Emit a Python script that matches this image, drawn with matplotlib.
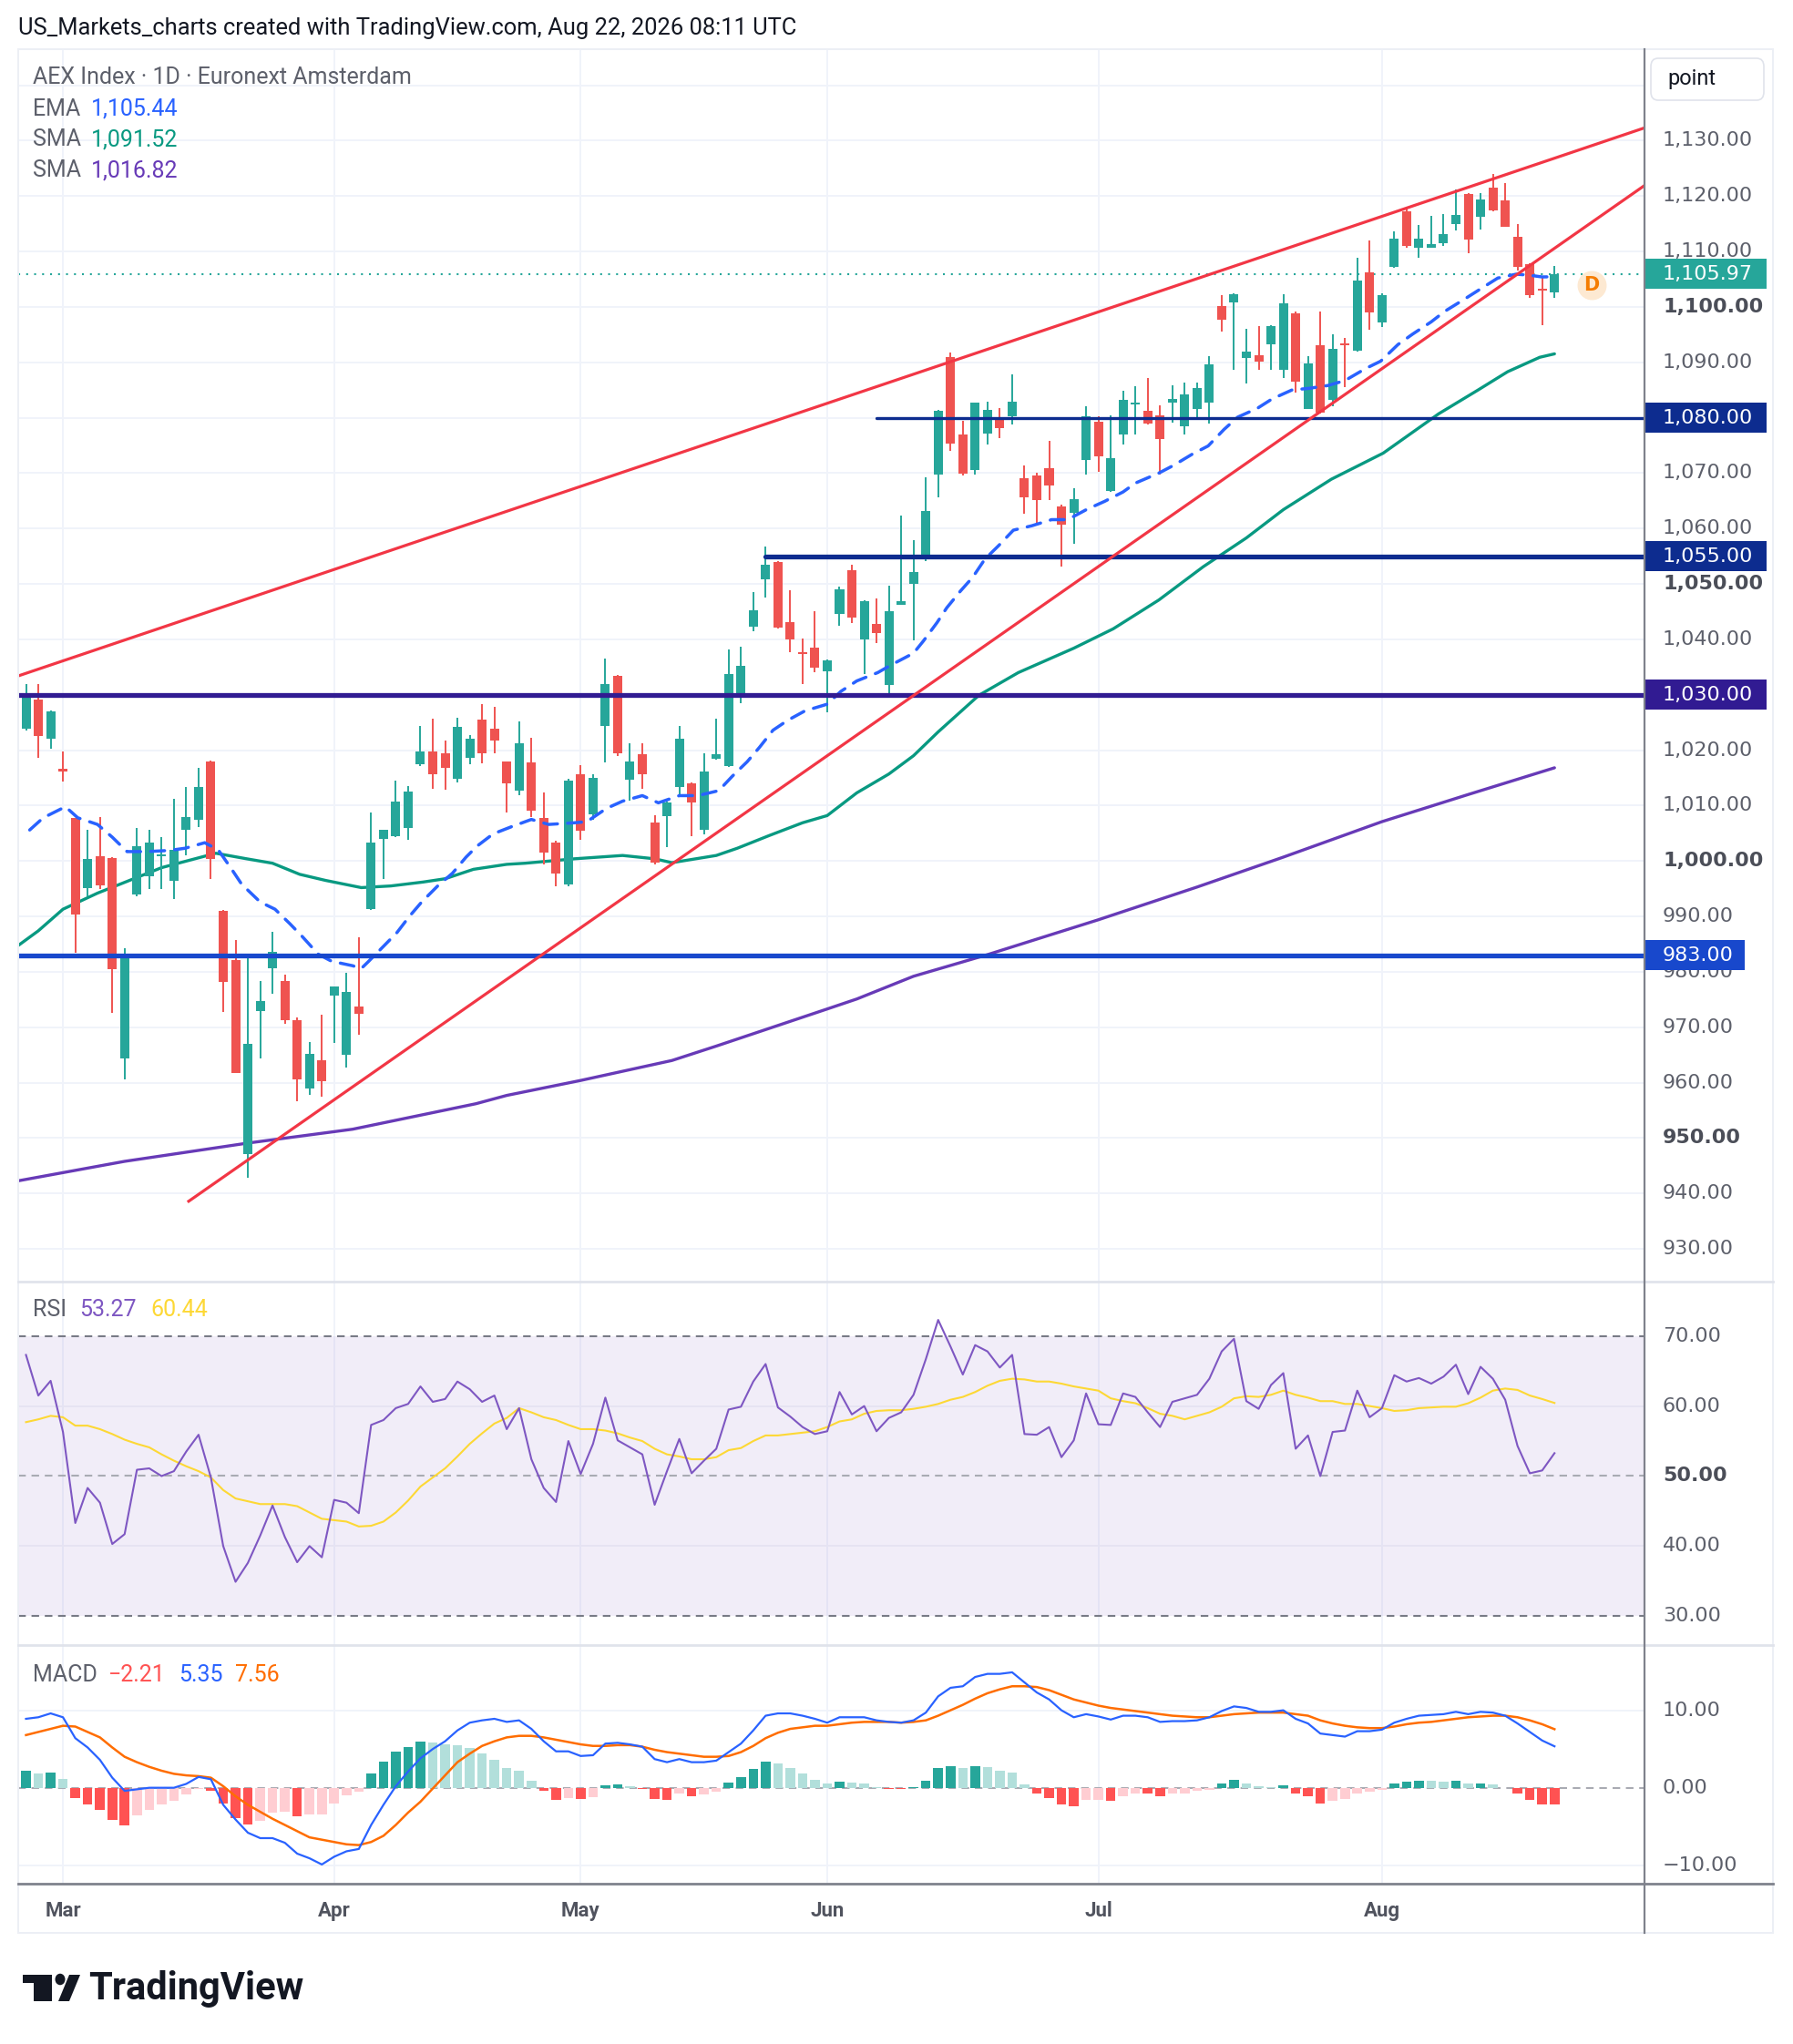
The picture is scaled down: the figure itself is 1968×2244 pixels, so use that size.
import numpy as np
import matplotlib
matplotlib.use('Agg')
import matplotlib.pyplot as plt
from matplotlib.patches import Rectangle, FancyBboxPatch, Circle, Polygon
from matplotlib.lines import Line2D

# ---------------- DATA ----------------
opens = [1023.8,1029.2,1022.1,1016.6,1007.7,995.1,1000.9,1000.6,964.4,993.9,
         997.3,1000.8,996.5,1005.6,1007.5,1017.9,991.0,982.2,947.1,972.9,
         980.6,978.4,971.2,959.0,964.0,975.7,965.0,973.8,991.3,1004.0,
         1004.4,1006.0,1017.4,1019.8,1019.5,1014.8,1018.6,1025.5,1023.9,1017.9,
         1012.7,1017.8,1007.7,1003.3,995.8,1015.6,1008.5,1024.3,1033.4,1014.7,
         1019.2,1006.9,1008.1,1013.4,1014.0,1005.6,1018.4,1017.1,1030.1,1042.3,
         1050.8,1054.0,1043.1,1037.5,1038.5,1034.3,1044.6,1052.4,1040.0,1042.7,
         1031.8,1046.3,1050.0,1054.5,1069.8,1090.9,1077.0,1070.5,1077.2,1079.6,
         1080.2,1069.1,1069.6,1070.9,1064.0,1062.8,1072.3,1079.2,1066.7,1077.0,
         1082.4,1081.3,1080.4,1082.8,1078.5,1081.5,1082.8,1100.2,1100.8,1090.8,
         1091.3,1093.2,1088.6,1098.9,1081.6,1093.0,1083.2,1093.3,1092.1,1106.2,
         1097.2,1107.2,1117.3,1110.6,1110.7,1111.5,1115.0,1120.4,1116.2,1121.5,
         1119.2,1112.6,1107.7,1103.0,1102.6]
highs = [1031.9,1031.9,1027.1,1019.7,1007.8,1005.6,1007.9,1000.7,984.2,1005.9,
         1005.6,1004.3,1011.2,1013.4,1016.8,1018.2,991.2,985.7,983.2,978.3,
         987.3,979.5,971.8,967.3,972.3,977.4,979.8,986.2,1008.7,1005.7,
         1014.5,1013.5,1024.4,1025.7,1021.8,1025.8,1022.8,1028.3,1027.9,1018.0,
         1025.2,1022.3,1012.4,1003.6,1014.9,1017.3,1015.6,1036.6,1033.5,1021.2,
         1021.3,1008.3,1010.7,1024.4,1014.1,1019.5,1025.7,1038.1,1038.7,1048.6,
         1056.8,1054.1,1048.9,1040.1,1045.0,1036.3,1049.6,1053.4,1047.0,1047.4,
         1049.7,1062.4,1057.9,1069.3,1081.4,1091.7,1079.5,1082.8,1082.9,1081.8,
         1087.9,1071.3,1070.1,1075.8,1064.3,1067.3,1082.1,1080.3,1080.4,1084.8,
         1085.7,1087.2,1082.3,1085.9,1086.4,1086.3,1091.1,1102.1,1102.4,1096.0,
         1096.6,1096.7,1102.3,1099.2,1091.1,1099.1,1095.0,1094.4,1108.9,1112.0,
         1102.4,1113.7,1117.8,1114.8,1116.4,1116.8,1121.2,1120.5,1120.5,1123.9,
         1122.3,1115.0,1107.9,1105.5,1107.3]
lows = [1023.5,1018.6,1020.3,1014.4,983.5,993.6,994.9,972.6,960.6,993.6,
        994.9,994.9,993.1,1001.0,1006.2,996.7,972.8,961.7,942.9,964.4,
        976.0,970.6,956.6,957.8,957.5,967.1,962.7,968.7,991.1,996.8,
        1004.3,1003.8,1017.2,1013.1,1012.8,1014.2,1017.4,1017.6,1019.5,1008.8,
        1011.8,1007.9,999.4,995.4,995.4,1003.8,1007.4,1017.8,1018.9,1010.9,
        1013.0,999.4,1002.5,1012.1,1004.4,1004.8,1018.3,1017.0,1028.4,1041.5,
        1047.5,1042.0,1037.7,1031.9,1034.0,1026.9,1042.5,1043.0,1033.8,1039.3,
        1030.0,1046.2,1039.9,1054.2,1065.7,1074.0,1069.5,1069.7,1075.2,1076.3,
        1078.7,1062.6,1061.0,1065.2,1053.1,1057.2,1069.7,1070.2,1066.6,1075.2,
        1076.9,1078.8,1069.8,1079.1,1077.0,1080.0,1079.0,1095.5,1088.6,1086.1,
        1088.7,1088.6,1087.1,1084.6,1081.5,1080.8,1082.0,1085.5,1092.0,1095.8,
        1096.3,1107.1,1110.7,1108.8,1110.6,1111.0,1113.8,1109.6,1113.9,1117.2,
        1114.4,1106.6,1101.6,1096.7,1101.7]
closes = [1030.3,1022.5,1027.0,1016.2,990.3,1000.3,995.6,980.5,983.2,1002.7,
          1003.3,1001.2,1002.0,1008.0,1013.4,1000.4,978.1,961.8,967.0,974.7,
          983.6,971.2,960.6,965.2,960.3,977.3,976.4,972.5,1003.3,1005.6,
          1010.8,1012.6,1019.8,1015.7,1016.8,1024.2,1022.0,1019.5,1021.7,1014.0,
          1021.2,1009.0,1001.5,997.7,1014.5,1005.4,1015.0,1031.9,1019.5,1017.9,
          1015.6,999.7,1010.6,1022.0,1010.5,1016.1,1019.2,1033.8,1035.3,1045.2,
          1053.4,1042.1,1040.0,1037.4,1034.9,1036.2,1049.1,1043.9,1046.9,1041.1,
          1045.0,1046.9,1052.1,1063.2,1081.3,1075.4,1069.9,1082.7,1081.4,1078.1,
          1082.9,1065.6,1065.2,1067.8,1060.7,1065.3,1080.2,1073.1,1072.7,1083.2,
          1082.6,1078.9,1076.1,1083.3,1084.2,1085.4,1089.7,1097.6,1102.3,1091.9,
          1090.2,1096.6,1100.7,1086.5,1089.8,1080.9,1092.4,1093.1,1104.7,1099.0,
          1102.1,1112.3,1111.0,1112.3,1111.3,1113.1,1116.6,1112.1,1119.3,1117.4,
          1114.5,1107.2,1102.2,1102.9,1105.97]

month_labels = ['Mar', 'Apr', 'May', 'Jun', 'Jul', 'Aug']
month_bars = [3, 25, 45, 65, 87, 110]

ema_x = [0.3,1.4,3.2,4.2,5.8,7,8.2,9.8,11.6,12.9,14.5,15.6,16.6,17.5,19,20.2,21.4,22.4,23.7,24.8,
         26.5,27.2,27.8,29,30.1,31.1,32.1,33.4,34.6,35.7,36.6,37.9,39.4,41,42.4,44.5,45.5,47.1,48.4,50,
         51.3,53,54.5,56.2,57.3,58.5,59.5,60.6,61.8,63.2,65,66.1,67.4,69.1,70.2,72,72.8,73.9,74.7,75.8,
         76.8,77.8,78.9,80.1,81.6,83.2,84.5,86.1,87.5,89,90,91.9,93.1,94.6,95.9,97.2,98.3,99.9,101.1,102.7,
         104.1,105.6,107,108.7,109.9,111.3,112.5,114,115.1,116.7,117.9,119.4,120.9,122,123,124]
ema_v = [1005.6,1007.8,1009.8,1007.8,1006.6,1004.3,1001.7,1001.7,1001.9,1002.3,1003.3,1002.0,998.8,995.8,992.6,991.3,988.7,986.4,983.2,981.9,
         981.1,980.6,981.9,984.6,987.1,990.0,992.6,995.5,997.8,1000.7,1002.7,1004.9,1006.2,1007.5,1006.6,1006.9,1007.1,1009.5,1010.8,1011.8,
         1010.5,1011.8,1011.8,1012.7,1015.3,1017.9,1020.5,1023.6,1025.4,1027.1,1028.3,1030.6,1032.5,1034.0,1035.4,1037.5,1039.7,1043.0,1045.7,1048.7,
         1051.2,1054.5,1056.9,1059.7,1060.5,1061.6,1061.6,1063.5,1064.9,1066.6,1068.2,1070.0,1071.4,1073.4,1074.9,1077.9,1080.1,1081.7,1083.4,1085.0,
         1085.3,1085.8,1086.7,1088.9,1090.2,1093.2,1095.1,1097.3,1099.2,1101.4,1103.1,1105.2,1105.9,1105.7,1105.4,1105.44]

sma50_x = [-0.6,1,3,5.8,8.4,11,13.2,15.4,17.9,20,22.2,24.3,27.2,29.6,32.2,34,36.3,39,40.5,44.5,
           48.4,51,52.4,56,57.7,60.3,63,65,67.4,70,72,74,77.3,80.5,85,88.2,91.9,95.5,99,102,
           105.9,110.1,114.6,117.8,120.2,122.8,124]
sma50_v = [984.8,987.4,991.3,994.2,996.5,998.8,1000.1,1001.4,1000.4,999.6,997.6,996.5,995.2,995.5,996.2,996.8,998.5,999.4,999.6,1000.4,
           1001.0,1000.4,999.7,1001.0,1002.3,1004.6,1006.9,1008.2,1012.3,1015.7,1019.0,1023.3,1029.9,1034.0,1038.4,1041.9,1047.1,1053.1,1058.3,1063.4,
           1068.9,1073.6,1080.7,1085.0,1088.3,1090.9,1091.52]

sma200_x = [-0.6,8,18,26.5,36.5,39,45,52.4,56,60.3,65,67.4,72,78,87,95,102,110,117,124]
sma200_v = [942.3,945.8,949.1,951.6,956.2,957.7,960.4,964.0,966.6,969.8,973.3,975.1,979.2,983.1,989.4,995.3,1000.7,1007.1,1012.0,1016.82]

# trend line anchors (bar index, price)
upper_tl_x = [-0.63, 131.3]
upper_tl_y = [1033.4, 1132.3]
lower_tl_x = [13.2, 131.3]
lower_tl_y = [938.6, 1121.9]

# horizontal levels
levels = [1080.0, 1055.0, 1030.0, 983.0]
level_start = [69.0, 60.0, -0.63, -0.63]
level_colors = ['#0d2c8f', '#0d2c8f', '#311b92', '#1848cc']
level_widths = [2.4, 3.8, 3.8, 3.8]
last_price = 1105.97

rsi = [67.3,61.5,63.6,56.3,43.3,48.3,46.2,40.3,41.7,50.9,51.1,50.0,50.7,53.5,55.9,49.8,40.0,34.9,37.6,41.5,
       45.8,41.3,37.7,40.0,38.4,46.6,46.2,44.7,57.3,58.0,59.7,60.3,62.8,60.6,61.0,63.5,62.4,60.6,61.5,56.7,
       59.7,52.4,48.3,46.3,55.0,50.3,54.6,61.2,55.1,54.1,53.1,45.9,50.7,55.3,50.4,52.2,53.9,59.5,59.9,63.5,
       66.0,59.8,58.5,57.0,56.0,56.4,62.0,58.8,60.0,56.4,58.3,59.1,61.6,66.7,72.3,68.5,64.5,68.7,67.8,65.5,
       67.3,56.0,55.9,57.0,52.7,55.1,61.8,57.4,57.3,61.8,61.3,59.1,57.0,60.6,61.1,61.6,63.9,67.8,69.6,60.7,
       59.6,63.0,64.7,53.9,55.8,50.0,56.3,56.5,62.2,58.4,59.7,64.4,63.5,64.0,63.2,64.2,65.9,61.7,65.6,63.9,
       60.9,54.3,50.4,50.8,53.27]
rsi_ma = [57.7,58.1,58.6,58.4,57.2,57.2,56.7,56.0,55.2,54.6,54.1,53.1,52.2,51.4,50.7,49.8,48.0,46.8,46.4,46.0,
          46.0,46.0,45.7,44.8,43.9,43.7,43.5,42.8,42.9,43.5,44.8,46.5,48.5,49.8,51.1,52.8,54.6,56.1,57.5,58.3,
          59.7,59.1,58.4,58.0,57.3,56.7,56.7,56.5,56.1,55.5,55.0,53.9,53.1,52.8,52.4,52.4,52.7,53.7,54.0,55.0,
          55.8,55.8,56.0,56.2,56.4,57.0,57.8,58.1,58.9,59.3,59.4,59.4,59.6,59.9,60.3,60.9,61.3,62.0,62.9,63.6,
          63.9,63.8,63.5,63.5,63.2,62.8,62.5,62.2,61.1,60.7,60.4,59.7,58.9,58.6,58.1,58.6,59.1,59.9,61.1,61.4,
          61.3,61.6,62.2,61.6,61.2,60.7,60.7,60.3,60.3,60.0,59.7,59.3,59.4,59.7,59.8,59.9,59.9,60.4,61.2,62.2,
          62.5,62.3,61.5,61.0,60.44]

macd = [8.9,9.1,9.6,9.1,6.4,5.2,3.6,1.3,-0.4,-0.2,0.0,0.0,0.0,0.5,1.4,1.1,-2.2,-4.1,-5.8,-6.5,
        -6.5,-7.1,-8.5,-9.1,-9.9,-8.9,-8.2,-7.9,-4.8,-2.2,0.2,2.1,3.8,5.0,6.0,7.4,8.4,8.7,8.9,8.5,
        8.7,7.6,6.0,4.7,4.7,4.1,4.2,5.7,5.8,5.6,5.3,3.7,3.3,3.7,3.3,3.3,3.5,4.6,5.7,7.4,
        9.3,9.6,9.6,9.3,8.9,8.4,9.1,9.1,9.1,8.7,8.5,8.4,8.7,9.7,11.8,12.9,13.1,14.3,14.7,14.7,
        14.9,13.6,12.3,11.4,10.0,9.1,9.5,9.2,8.8,9.3,9.3,9.1,8.5,8.6,8.6,8.7,9.1,9.9,10.5,10.3,
        9.8,9.8,10.0,8.9,8.3,7.0,6.8,6.6,7.3,7.3,7.5,8.4,8.9,9.3,9.4,9.5,9.8,9.5,9.8,9.7,
        9.3,8.3,7.2,6.1,5.35]
signal = [6.8,7.2,7.6,8.0,7.9,7.2,6.5,5.2,4.0,3.3,2.7,2.2,1.8,1.6,1.5,1.3,0.2,-1.1,-2.2,-3.1,
          -4.0,-4.8,-5.6,-6.4,-6.7,-7.0,-7.3,-7.4,-7.0,-6.2,-4.8,-3.2,-1.8,-0.1,1.6,3.3,4.4,5.4,6.0,6.5,
          6.7,6.7,6.5,6.2,5.9,5.6,5.4,5.4,5.5,5.5,5.3,4.9,4.6,4.4,4.2,4.0,4.0,4.1,4.6,5.4,
          6.4,7.1,7.6,7.8,8.0,8.0,8.2,8.4,8.5,8.5,8.5,8.4,8.5,8.7,9.3,10.0,10.7,11.5,12.2,12.7,
          13.1,13.1,13.0,12.6,12.0,11.4,11.0,10.6,10.3,10.1,9.9,9.7,9.5,9.3,9.2,9.1,9.1,9.3,9.5,9.6,
          9.7,9.7,9.7,9.5,9.3,8.7,8.3,8.0,7.8,7.7,7.7,7.9,8.2,8.4,8.5,8.7,8.9,9.1,9.2,9.3,
          9.3,9.1,8.7,8.2,7.56]
hist = [2.2,1.9,2.0,1.1,-1.3,-2.1,-2.9,-4.2,-4.8,-3.6,-2.8,-2.2,-1.7,-0.9,-0.1,-0.4,-2.0,-3.9,-4.7,-4.3,
        -3.2,-3.1,-3.7,-3.5,-3.4,-2.0,-1.0,-0.5,1.9,3.4,4.7,5.3,6.0,5.9,5.6,5.5,5.1,4.4,3.6,2.6,
        2.2,0.9,-0.4,-1.6,-1.3,-1.5,-1.2,0.35,0.4,0.2,-0.2,-1.5,-1.6,-0.7,-1.1,-0.9,-0.5,0.7,1.4,2.4,
        3.4,3.1,2.5,1.8,1.0,0.5,0.8,0.7,0.6,0.1,-0.1,-0.15,0.1,0.9,2.5,2.8,2.5,2.8,2.7,2.2,
        2.0,0.4,-0.7,-1.3,-2.2,-2.4,-1.6,-1.55,-1.7,-1.1,-0.7,-0.8,-1.1,-0.8,-0.7,-0.4,-0.3,0.5,1.0,0.6,
        0.15,0.1,0.3,-0.7,-1.1,-2.0,-1.7,-1.5,-0.7,-0.5,-0.3,0.6,0.8,0.9,0.85,0.8,0.9,0.5,0.6,0.4,
        -0.05,-0.8,-1.6,-2.15,-2.21]

price_ticks = [930,940,950,960,970,980,990,1000,1010,1020,1030,1040,1050,1060,1070,1080,1090,1100,1110,1120,1130]
bold_ticks = [950, 1000, 1050, 1100]

# ---------------- LAYOUT ----------------
W, H = 1968, 2244
fig = plt.figure(figsize=(W / 100, H / 100), dpi=100)
fig.patch.set_facecolor('white')

def fx(x):
    return x / W

def fy(y):
    return 1 - y / H

L, R = 20, 1805
T_MAIN, B_MAIN, B_RSI, B_MACD, B_TIME, R_OUT = 54, 1407, 1806, 2068, 2122, 1946
XMIN, XMAX = -0.63, 131.3

ax = fig.add_axes([fx(L), fy(B_MAIN), (R - L) / W, (B_MAIN - T_MAIN) / H])
ax_r = fig.add_axes([fx(L), fy(B_RSI), (R - L) / W, (B_RSI - B_MAIN) / H])
ax_m = fig.add_axes([fx(L), fy(B_MACD), (R - L) / W, (B_MACD - B_RSI) / H])

GRID = '#f0f3fa'
for a in (ax, ax_r, ax_m):
    a.set_xlim(XMIN, XMAX)
    for s in a.spines.values():
        s.set_visible(False)
    a.set_xticks([])
    a.set_yticks([])
    a.patch.set_alpha(0)
    for mb in month_bars:
        a.axvline(mb, color=GRID, lw=1.4, zorder=0)

ax.set_ylim(924.1, 1146.5)
ax_r.set_ylim(25.87, 77.77)
ax_m.set_ylim(-12.38, 18.42)

for p in price_ticks + [1140]:
    ax.axhline(p, color=GRID, lw=1.4, zorder=0)
for v in [40, 60]:
    ax_r.axhline(v, color='#e6e3f2', lw=1.4, zorder=1)
for v in [10, -10]:
    ax_m.axhline(v, color=GRID, lw=1.4, zorder=0)

# ---------------- MAIN PANEL ----------------
idx = np.arange(len(closes))
o = np.array(opens); c = np.array(closes); h = np.array(highs); lo = np.array(lows)
up = c >= o
GREEN, RED = '#26a69a', '#ef5350'
cols = np.where(up, GREEN, RED)
ax.vlines(idx, lo, h, colors=cols, lw=1.4, zorder=4)
body_bottom = np.minimum(o, c)
body_h = np.maximum(np.abs(c - o), 0.35)
ax.bar(idx, body_h, bottom=body_bottom, width=0.74, color=cols, zorder=5, linewidth=0)

ax.plot(sma200_x, sma200_v, color='#673ab7', lw=2.4, zorder=3, solid_capstyle='round')
ax.plot(sma50_x, sma50_v, color='#089981', lw=2.4, zorder=3, solid_capstyle='round')
ax.plot(ema_x, ema_v, color='#2962ff', lw=2.5, zorder=6, dashes=(4.4, 3.2), dash_capstyle='round')

ax.plot(upper_tl_x, upper_tl_y, color='#f23645', lw=2.3, zorder=7)
ax.plot(lower_tl_x, lower_tl_y, color='#f23645', lw=2.3, zorder=7)

for lv, st, colr, lw in zip(levels, level_start, level_colors, level_widths):
    ax.plot([st, XMAX], [lv, lv], color=colr, lw=lw, zorder=6, solid_capstyle='round')

ax.axhline(last_price, color='#26a69a', lw=1.5, ls=(0, (1, 3.2)), zorder=2)

# D marker
ax.plot([127.0], [1104.0], 'o', ms=22, color='#fde9d2', zorder=8)
ax.text(127.0, 1104.0, 'D', color='#f57c00', fontsize=15, fontweight='bold',
        ha='center', va='center', zorder=9, family=['DejaVu Sans'])

# price axis labels
ytr = ax.get_yaxis_transform()
LAB_X = (1825 - L) / (R - L)
for p in price_ticks:
    isb = p in bold_ticks
    ax.text(LAB_X, p, f'{p:,.2f}', transform=ytr, clip_on=False, fontsize=16,
            color='#4b4e58' if isb else '#5d606b', fontweight='bold' if isb else 'normal',
            va='center', ha='left', zorder=10, family=['DejaVu Sans'])

box_vals = [last_price, 1080.0, 1055.0, 1030.0, 983.0]
box_cols = ['#26a69a', '#0d2c8f', '#0d2c8f', '#311b92', '#1848cc']
box_w = [134, 134, 134, 134, 110]
for bv, bc, bw in zip(box_vals, box_cols, box_w):
    ax.add_patch(Rectangle((1.0, bv - 2.75), bw / (R - L), 5.5, transform=ytr,
                           clip_on=False, facecolor=bc, edgecolor='none', zorder=11))
    ax.text(LAB_X, bv, f'{bv:,.2f}', transform=ytr, clip_on=False, fontsize=16,
            color='white', va='center', ha='left', zorder=12, family=['DejaVu Sans'])

# ---------------- RSI PANEL ----------------
ax_r.fill_between([XMIN, XMAX], 30, 70, color='#7e57c2', alpha=0.10, lw=0, zorder=0)
ax_r.axhline(70, color='#787b86', lw=1.5, ls=(0, (4, 3)), zorder=2)
ax_r.axhline(30, color='#787b86', lw=1.5, ls=(0, (4, 3)), zorder=2)
ax_r.axhline(50, color='#a9abb3', lw=1.5, ls=(0, (4, 3)), zorder=2)
ax_r.plot(idx, rsi_ma, color='#fdd835', lw=1.5, zorder=3)
ax_r.plot(idx, rsi, color='#7e57c2', lw=1.5, zorder=4)
ytr_r = ax_r.get_yaxis_transform()
for v in [70, 60, 50, 40, 30]:
    ax_r.text(LAB_X, v, f'{v:.2f}', transform=ytr_r, clip_on=False, fontsize=16,
              color='#4b4e58' if v == 50 else '#5d606b', fontweight='bold' if v == 50 else 'normal',
              va='center', ha='left', family=['DejaVu Sans'])

# ---------------- MACD PANEL ----------------
hcols = []
for k, v in enumerate(hist):
    prev = hist[k - 1] if k > 0 else v - 0.1
    if v >= 0:
        hcols.append('#26a69a' if v > prev else '#b2dfdb')
    else:
        hcols.append('#ff5252' if v < prev else '#ffcdd2')
ax_m.axhline(0, color='#a9abb3', lw=1.5, ls=(0, (4, 3)), zorder=1)
ax_m.bar(idx, hist, width=0.78, color=hcols, zorder=2, linewidth=0)
ax_m.plot(idx, signal, color='#ff6d00', lw=1.8, zorder=3)
ax_m.plot(idx, macd, color='#2962ff', lw=1.6, zorder=4)
ytr_m = ax_m.get_yaxis_transform()
for v, s in zip([10, 0, -10], ['10.00', '0.00', '\u221210.00']):
    ax_m.text(LAB_X, v, s, transform=ytr_m, clip_on=False, fontsize=16,
              color='#5d606b', va='center', ha='left', family=['DejaVu Sans'])

# time axis labels
xtr = ax_m.get_xaxis_transform()
for mb, ml in zip(month_bars, month_labels):
    ax_m.text(mb, -(2098 - B_MACD) / (B_MACD - B_RSI), ml, transform=xtr, clip_on=False,
              fontsize=16, color='#50535e', fontweight='bold', ha='center', va='center',
              family=['Roboto', 'DejaVu Sans'])

# ---------------- FRAME LINES ----------------
def fline(x0, y0, x1, y1, color, lw):
    fig.add_artist(Line2D([fx(x0), fx(x1)], [fy(y0), fy(y1)], color=color, lw=lw,
                          transform=fig.transFigure, zorder=20))

fline(L, T_MAIN, R_OUT, T_MAIN, '#eceff5', 1.4)
fline(L, T_MAIN, L, B_TIME, '#eceff5', 1.4)
fline(R_OUT, T_MAIN, R_OUT, B_TIME, '#eceff5', 1.4)
fline(L, B_TIME, R_OUT, B_TIME, '#eceff5', 1.4)
fline(L, B_MAIN, R_OUT, B_MAIN, '#e0e3eb', 2.0)
fline(L, B_RSI, R_OUT, B_RSI, '#e0e3eb', 2.0)
fline(L, B_MACD, R_OUT, B_MACD, '#7f828c', 2.0)
fline(R, T_MAIN, R, B_TIME, '#7f828c', 1.6)

# "point" box
fig.add_artist(FancyBboxPatch((fx(1812), fy(110)), (1936 - 1812) / W, (110 - 64) / H,
                              boxstyle='round,pad=0,rounding_size=0.004', transform=fig.transFigure,
                              facecolor='white', edgecolor='#e0e3eb', lw=1.2, zorder=21))
fig.text(fx(1830), fy(87), 'point', fontsize=17, color='#131722', va='center', ha='left',
         family=['Roboto', 'DejaVu Sans'], zorder=22)

# ---------------- TEXTS ----------------
FONT = ['Roboto', 'DejaVu Sans']
fig.text(fx(20), fy(31), 'US_Markets_charts created with TradingView.com, Aug 22, 2026 08:11 UTC',
         fontsize=18.4, color='#131722', va='center', ha='left', family=FONT)
fig.text(fx(36), fy(85), 'AEX Index \u00b7 1D \u00b7 Euronext Amsterdam', fontsize=18,
         color='#5d606b', va='center', ha='left', family=FONT)
leg_rows = [('EMA', '1,105.44', '#2962ff', 120), ('SMA', '1,091.52', '#089981', 153),
            ('SMA', '1,016.82', '#673ab7', 187)]
for name, val, colr, yy in leg_rows:
    fig.text(fx(36), fy(yy), name, fontsize=18, color='#5d606b', va='center', ha='left', family=FONT)
    fig.text(fx(100), fy(yy), val, fontsize=18, color=colr, va='center', ha='left', family=FONT)

fig.text(fx(36), fy(1438), 'RSI', fontsize=18, color='#5d606b', va='center', ha='left', family=FONT)
fig.text(fx(87), fy(1438), '53.27', fontsize=18, color='#7e57c2', va='center', ha='left', family=FONT)
fig.text(fx(165), fy(1438), '60.44', fontsize=18, color='#fdd835', va='center', ha='left', family=FONT)

fig.text(fx(36), fy(1839), 'MACD', fontsize=18, color='#5d606b', va='center', ha='left', family=FONT)
fig.text(fx(119), fy(1839), '\u22122.21', fontsize=18, color='#ff5252', va='center', ha='left', family=FONT)
fig.text(fx(196), fy(1839), '5.35', fontsize=18, color='#2962ff', va='center', ha='left', family=FONT)
fig.text(fx(258), fy(1839), '7.56', fontsize=18, color='#ff6d00', va='center', ha='left', family=FONT)

# TradingView logo
LOGO = '#131722'
fig.add_artist(Rectangle((fx(25), fy(2177)), 32 / W, 9 / H, transform=fig.transFigure,
                         facecolor=LOGO, edgecolor='none'))
fig.add_artist(Rectangle((fx(37), fy(2197)), 20 / W, 29 / H, transform=fig.transFigure,
                         facecolor=LOGO, edgecolor='none'))
fig.add_artist(Circle((fx(66), fy(2173)), 5.5 / W, transform=fig.transFigure,
                      facecolor=LOGO, edgecolor='none'))
fig.add_artist(Polygon([(fx(64), fy(2197)), (fx(76), fy(2197)), (fx(88), fy(2168)), (fx(76), fy(2168))],
                       closed=True, transform=fig.transFigure, facecolor=LOGO, edgecolor='none'))
fig.text(fx(97), fy(2183), 'TradingView', fontsize=30, fontweight='bold', color=LOGO,
         va='center', ha='left', family=FONT)

fig.savefig('out.png', dpi=100, facecolor='white')
